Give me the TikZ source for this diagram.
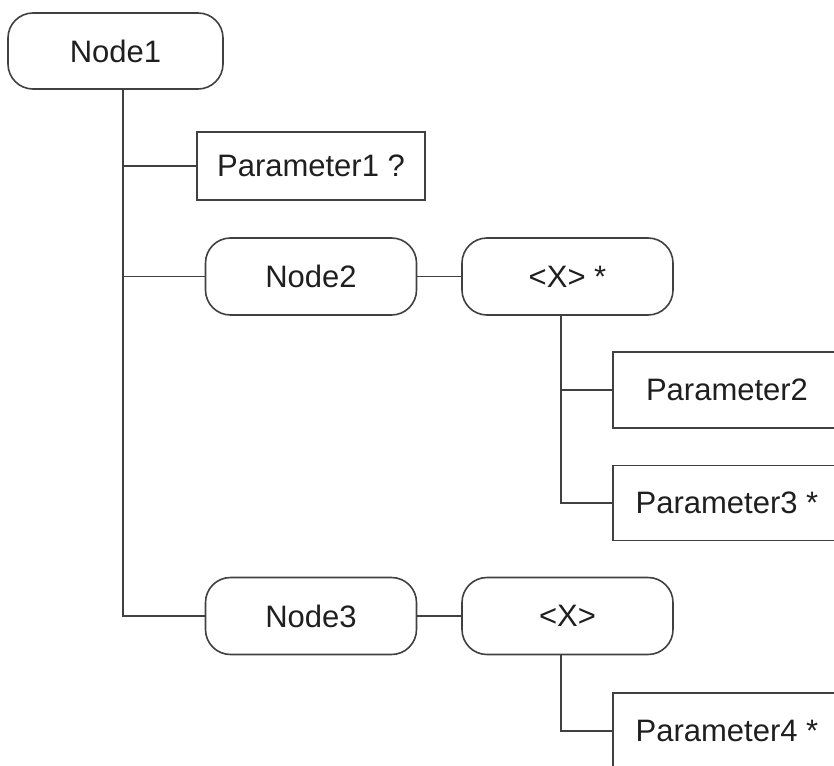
\documentclass[tikz,border=0pt]{standalone}
\usepackage{fontspec}
\setmainfont{Liberation Sans}
\begin{document}
\begin{tikzpicture}[x=1pt,y=-1pt,
  every node/.style={font=\fontsize{31}{36}\selectfont, text=black!88, inner sep=0pt},
  rnode/.style={draw=black!75, line width=1.6pt, rounded corners=25pt, minimum width=211pt, minimum height=77pt},
  pbox/.style={draw=black!75, line width=1.6pt, minimum width=228pt, minimum height=76pt},
  conn/.style={draw=black!75, line width=1.6pt}]
\useasboundingbox (0,0) rectangle (834,765);
\clip (0,0) rectangle (834,765);
\coordinate (t) at (123,0);
\coordinate (s) at (561,0);
\node[rnode, minimum width=215pt, minimum height=76pt] (n1) at (115.5,51) {Node1};
\node[pbox, minimum height=68pt] (p1) at (311,166) {Parameter1 ?};
\node[rnode] (n2) at (311,276.5) {Node2};
\node[rnode] (x1) at (567.5,276.5) {<X> *};
\node[pbox] (p2) at (727,390) {Parameter2};
\node[pbox, minimum height=75pt] (p3) at (727,503) {Parameter3 *};
\node[rnode] (n3) at (311,616) {Node3};
\node[rnode] (x2) at (567.5,616) {<X>};
\node[pbox] (p4) at (727,731) {Parameter4 *};
\draw[conn] (n1.south -| t) |- (n3.west);
\draw[conn] (t |- p1.west) -- (p1.west);
\draw[conn] (t |- n2.west) -- (n2.west);
\draw[conn] (n2.east) -- (x1.west);
\draw[conn] (n3.east) -- (x2.west);
\draw[conn] (x1.south -| s) |- (p3.west);
\draw[conn] (s |- p2.west) -- (p2.west);
\draw[conn] (x2.south -| s) |- (p4.west);
\end{tikzpicture}
\end{document}
